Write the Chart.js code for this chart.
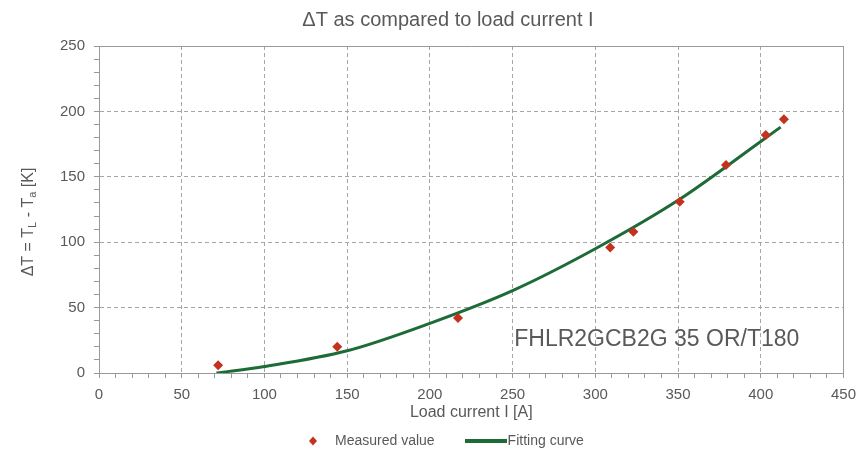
<!DOCTYPE html>
<html>
<head>
<meta charset="utf-8">
<script src="https://cdn.jsdelivr.net/npm/chart.js@4/dist/chart.umd.min.js"></script>
<style>
  html, body { margin: 0; padding: 0; background: #ffffff; }
  #wrap { width: 864px; height: 453px; position: relative; }
</style>
</head>
<body>
<div id="wrap"><canvas id="c" width="864" height="453"></canvas></div>
<script>
// ---------- data ----------
const chartTitle = 'ΔT as compared to load current I';
const xAxisTitle = 'Load current I [A]';
const measuredLabel = 'Measured value';
const fitLabel = 'Fitting curve';
const annotationText = 'FHLR2GCB2G 35 OR/T180';

const measuredCurrent = [72, 144, 217, 309, 323, 351, 379, 403, 414];
const measuredDeltaT  = [6, 20, 42, 96, 108, 131, 159, 182, 194];

const fitCurrent = [71, 100, 150, 200, 250, 300, 350, 400, 412];
const fitDeltaT  = [0, 5, 17, 38, 63, 95, 132, 177, 188];

const xTickLabels = [0, 50, 100, 150, 200, 250, 300, 350, 400, 450];
const yTickLabels = [0, 50, 100, 150, 200, 250];

// ---------- styling ----------
const FONT = "'Liberation Sans', Arial, Helvetica, sans-serif";
const TEXT = '#595959';
const GRID = '#a6a6a6';
const AXIS = '#999999';
const RED = '#c4311f';
const GREEN = '#1d6b37';

// legend symbol images
const diamondImg = document.createElement('canvas');
diamondImg.width = 12; diamondImg.height = 12;
(function () {
  const g = diamondImg.getContext('2d');
  g.fillStyle = RED;
  g.beginPath(); g.moveTo(6, 1.5); g.lineTo(10, 6); g.lineTo(6, 10.5); g.lineTo(2, 6); g.closePath(); g.fill();
})();
const lineImg = document.createElement('canvas');
lineImg.width = 42; lineImg.height = 4;
(function () {
  const g = lineImg.getContext('2d');
  g.fillStyle = GREEN; g.fillRect(0, 0, 42, 4);
})();

const measuredPoints = measuredCurrent.map((x, i) => ({ x: x, y: measuredDeltaT[i] }));
const fitPoints = fitCurrent.map((x, i) => ({ x: x, y: fitDeltaT[i] }));

const xMax = xTickLabels[xTickLabels.length - 1];
const yMax = yTickLabels[yTickLabels.length - 1];

const layoutTweaks = {
  id: 'layoutTweaks',
  afterLayout(chart) {
    const t = chart.titleBlock;
    if (t) { t.left += 25; t.right += 25; }
    const lg = chart.legend;
    if (lg) {
      lg.left = 262; lg.right = 900;
      lg.top = 398; lg.bottom = 470;
    }
  }
};

const extraText = {
  id: 'extraText',
  afterDraw(chart) {
    const ctx = chart.ctx;
    const xs = chart.scales.x, ys = chart.scales.y;
    // annotation inside the plot
    ctx.save();
    ctx.fillStyle = TEXT;
    ctx.font = '23px ' + FONT;
    ctx.textAlign = 'left';
    ctx.textBaseline = 'alphabetic';
    ctx.fillText(annotationText, xs.getPixelForValue(251), ys.getPixelForValue(20.3));
    ctx.restore();

    // y axis title with subscripts
    const parts = [
      { t: 'ΔT = T', sub: false },
      { t: 'L', sub: true },
      { t: ' - T', sub: false },
      { t: 'a', sub: true },
      { t: ' [K]', sub: false }
    ];
    const mainFont = '16px ' + FONT;
    const subFont = '11px ' + FONT;
    ctx.save();
    ctx.fillStyle = TEXT;
    ctx.textBaseline = 'middle';
    ctx.textAlign = 'left';
    let total = 0;
    parts.forEach(p => { ctx.font = p.sub ? subFont : mainFont; p.w = ctx.measureText(p.t).width; total += p.w; });
    ctx.translate(29, 222);
    ctx.rotate(-Math.PI / 2);
    let cx = -total / 2;
    parts.forEach(p => {
      ctx.font = p.sub ? subFont : mainFont;
      ctx.fillText(p.t, cx, p.sub ? 4 : 0);
      cx += p.w;
    });
    ctx.restore();
  }
};

const chart = new Chart(document.getElementById('c'), {
  type: 'scatter',
  data: {
    datasets: [
      {
        label: measuredLabel,
        data: measuredPoints,
        showLine: false,
        pointStyle: 'rectRot',
        pointRadius: 5,
        pointHoverRadius: 5,
        backgroundColor: RED,
        borderColor: RED,
        borderWidth: 0
      },
      {
        label: fitLabel,
        data: fitPoints,
        showLine: true,
        borderColor: GREEN,
        backgroundColor: GREEN,
        borderWidth: 3,
        pointRadius: 0,
        pointHoverRadius: 0,
        cubicInterpolationMode: 'monotone',
        fill: false
      }
    ]
  },
  options: {
    responsive: false,
    animation: false,
    devicePixelRatio: 1,
    layout: { padding: { left: 0, right: 18, top: 0, bottom: 0 } },
    plugins: {
      title: {
        display: true,
        text: chartTitle,
        color: TEXT,
        font: { family: FONT, size: 20, weight: 'normal' },
        padding: { top: 8, bottom: 14 }
      },
      legend: {
        position: 'bottom',
        align: 'start',
        maxHeight: 30,
        labels: {
          usePointStyle: true,
          pointStyleWidth: 30,
          padding: 36,
          color: TEXT,
          font: { family: FONT, size: 14 },
          generateLabels(ch) {
            const items = Chart.defaults.plugins.legend.labels.generateLabels(ch);
            items.forEach(it => {
              it.pointStyle = it.datasetIndex === 0 ? diamondImg : lineImg;
              it.fontColor = TEXT;
            });
            return items;
          }
        }
      },
      tooltip: { enabled: false }
    },
    scales: {
      x: {
        type: 'linear',
        min: 0,
        max: xMax,
        afterFit(s) { s.height = 50; },
        ticks: {
          stepSize: 10,
          autoSkip: false,
          maxRotation: 0,
          padding: 8,
          color: TEXT,
          font: { family: FONT, size: 15 },
          callback: v => xTickLabels.includes(v) ? String(v) : ''
        },
        grid: {
          color: c => (c.tick && xTickLabels.includes(c.tick.value)) ? (c.tick.value === xMax ? AXIS : GRID) : 'rgba(0,0,0,0)',
          tickColor: AXIS,
          tickLength: 5,
          lineWidth: 1
        },
        border: {
          color: AXIS,
          width: 1,
          dash: c => (c.tick && c.tick.value === xMax) ? [] : [4, 3]
        },
        title: {
          display: true,
          text: xAxisTitle,
          color: TEXT,
          font: { family: FONT, size: 16 },
          padding: { top: 0, bottom: 1 }
        }
      },
      y: {
        type: 'linear',
        min: 0,
        max: yMax,
        afterFit(s) { s.width = 99; },
        ticks: {
          stepSize: 10,
          autoSkip: false,
          padding: 9,
          color: TEXT,
          font: { family: FONT, size: 15 },
          callback: v => yTickLabels.includes(v) ? String(v) : ''
        },
        grid: {
          color: c => (c.tick && yTickLabels.includes(c.tick.value)) ? (c.tick.value === yMax ? AXIS : GRID) : 'rgba(0,0,0,0)',
          tickColor: AXIS,
          tickLength: 5,
          lineWidth: 1
        },
        border: {
          color: AXIS,
          width: 1,
          dash: c => (c.tick && c.tick.value === yMax) ? [] : [4, 3]
        },
        title: { display: false }
      }
    }
  },
  plugins: [layoutTweaks, extraText]
});
</script>
</body>
</html>
